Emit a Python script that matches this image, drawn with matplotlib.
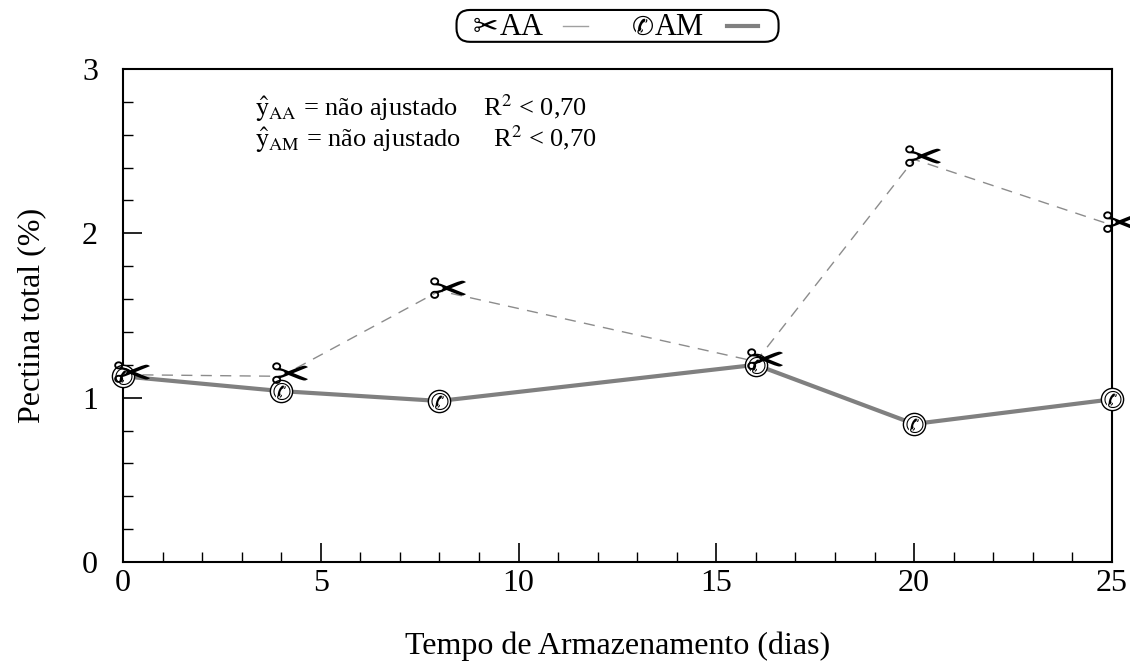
import matplotlib
matplotlib.use("Agg")
import matplotlib.pyplot as plt
from matplotlib.ticker import MultipleLocator
from matplotlib.font_manager import FontProperties
from matplotlib.textpath import TextPath
from matplotlib.path import Path
from matplotlib.patches import FancyBboxPatch
from matplotlib.lines import Line2D

# data
dias = [0, 4, 8, 16, 20, 25]
pectina_aa = [1.14, 1.13, 1.65, 1.22, 2.45, 2.05]
pectina_am = [1.13, 1.04, 0.98, 1.20, 0.84, 0.99]
series_labels = ['AA', 'AM']

plt.rcParams['font.family'] = ['Liberation Serif', 'DejaVu Sans']
plt.rcParams['mathtext.fontset'] = 'stix'


def glyph_marker(ch, xfrac=0.5):
    # turn a DejaVu glyph into a marker path; xfrac = where the point sits
    tp = TextPath((0, 0), ch, prop=FontProperties(family='DejaVu Sans'))
    v = tp.vertices.copy()
    x0, y0 = v.min(axis=0)
    x1, y1 = v.max(axis=0)
    v[:, 0] -= x0 + xfrac * (x1 - x0)
    v[:, 1] -= (y0 + y1) / 2
    return Path(v, tp.codes)


scissors = glyph_marker('\u2702', 0.3)
phone = glyph_marker('\u2706', 0.5)

fig = plt.figure(figsize=(11.3, 6.64), dpi=100)
ax = fig.add_axes([0.1088, 0.1536, 0.8752, 0.7425])

# AA: thin dashed gray with scissors
ax.plot(dias, pectina_aa, color='#8c8c8c', lw=1, ls=(0, (8, 6)), zorder=2)
ax.plot(dias, pectina_aa, ls='none', marker=scissors, ms=38, color='black',
        mew=0, clip_on=False, zorder=4)

# AM: thick gray line with circled telephone
ax.plot(dias, pectina_am, color='#808080', lw=3, zorder=2)
ax.plot(dias, pectina_am, ls='none', marker='o', ms=16, mfc='white', mec='black',
        mew=1, clip_on=False, zorder=3)
ax.plot(dias, pectina_am, ls='none', marker=phone, ms=13, color='black',
        mew=0, clip_on=False, zorder=3)

ax.set_xlim(0, 25)
ax.set_ylim(0, 3)
ax.xaxis.set_major_locator(MultipleLocator(5))
ax.xaxis.set_minor_locator(MultipleLocator(1))
ax.yaxis.set_major_locator(MultipleLocator(1))
ax.yaxis.set_minor_locator(MultipleLocator(0.2))
ax.tick_params(which='major', direction='in', length=14, width=1.2,
               labelsize=23)
ax.tick_params(axis='x', which='major', pad=5)
ax.tick_params(axis='y', which='major', pad=18)
ax.tick_params(which='minor', direction='in', length=7, width=1)
for s in ax.spines.values():
    s.set_linewidth(1.5)

ax.set_xlabel('Tempo de Armazenamento (dias)', fontsize=23, labelpad=24)
ax.set_ylabel('Pectina total (%)', fontsize=23, labelpad=26)

ax.text(0.134, 0.92, r'$\hat{\mathrm{y}}_{\mathrm{AA}}$ = não ajustado    R$^{2}$ < 0,70',
        transform=ax.transAxes, fontsize=19, va='center')
ax.text(0.134, 0.857, r'$\hat{\mathrm{y}}_{\mathrm{AM}}$ = não ajustado     R$^{2}$ < 0,70',
        transform=ax.transAxes, fontsize=19, va='center')

# legend drawn by hand: glyph + name, then line sample, in a rounded box
box = FancyBboxPatch((0.404, 0.937), 0.285, 0.048,
                     boxstyle='round,pad=0,rounding_size=0.012',
                     transform=fig.transFigure, fc='white', ec='black', lw=1.5,
                     mutation_aspect=1130 / 664)
fig.add_artist(box)
dv = FontProperties(family='DejaVu Sans', size=22)
fig.text(0.430, 0.958, '\u2702', fontproperties=dv, ha='center', va='center')
fig.text(0.442, 0.958, series_labels[0], fontsize=22, ha='left', va='center')
fig.add_artist(Line2D([0.498, 0.520], [0.961, 0.961], transform=fig.transFigure,
                      color='#a0a0a0', lw=1))
fig.text(0.569, 0.958, '\u2706', fontproperties=FontProperties(family='DejaVu Sans', size=19),
         ha='center', va='center')
fig.text(0.579, 0.958, series_labels[1], fontsize=22, ha='left', va='center')
fig.add_artist(Line2D([0.643, 0.671], [0.961, 0.961], transform=fig.transFigure,
                      color='#808080', lw=3))

fig.savefig('out.png', dpi=100)
